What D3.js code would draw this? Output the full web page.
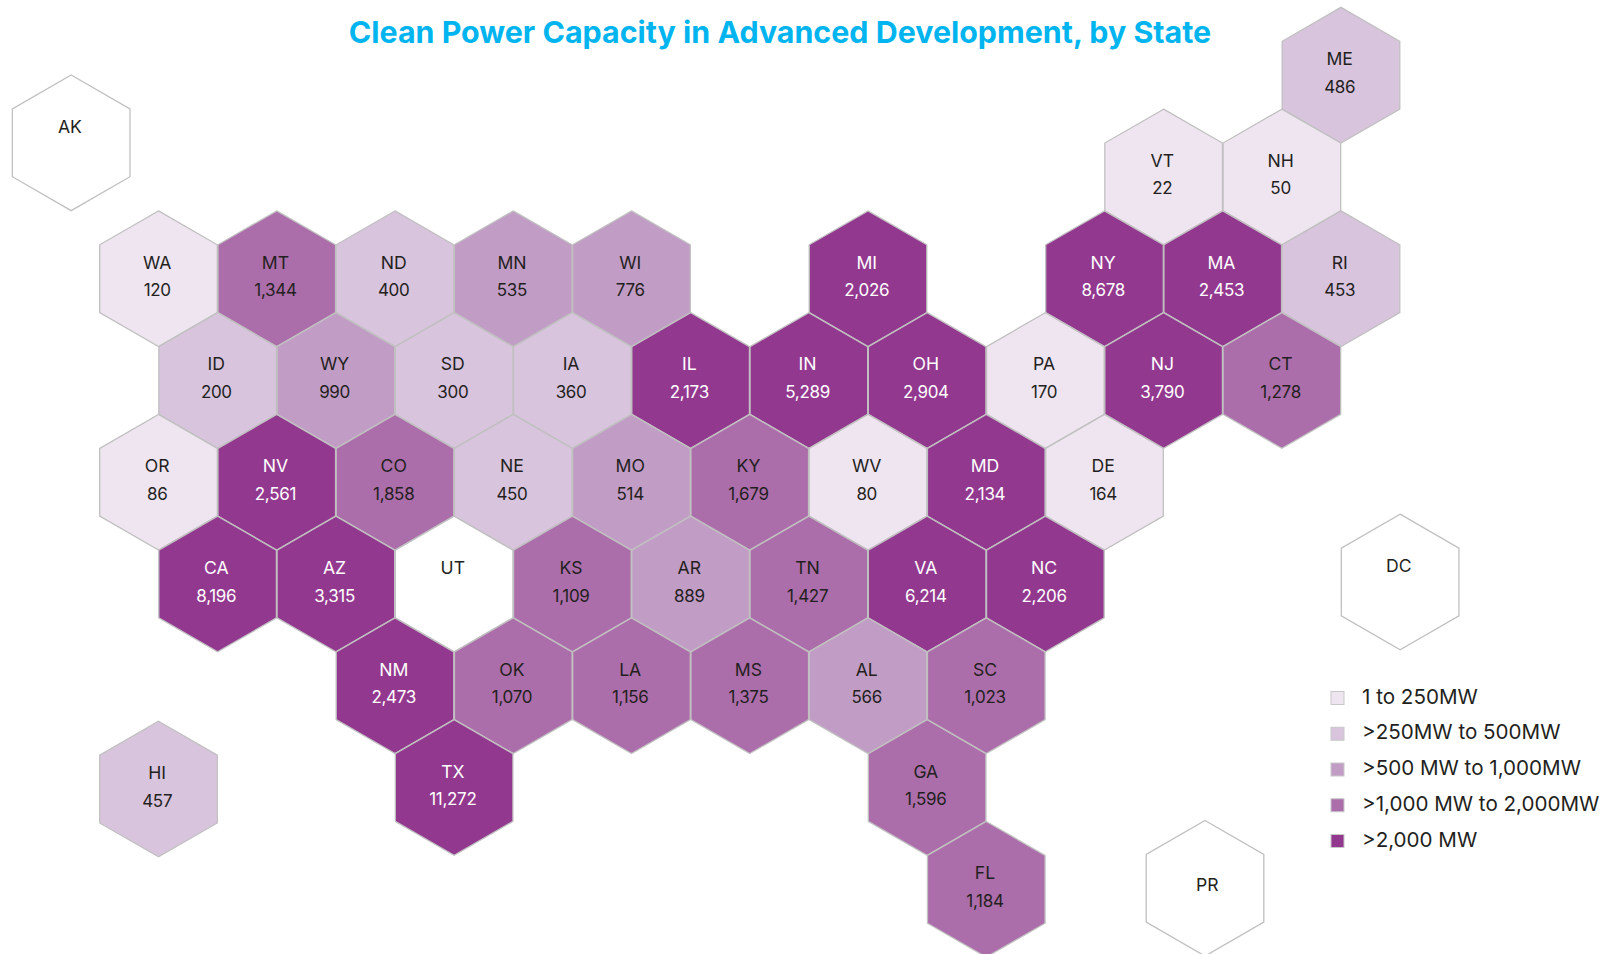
<!DOCTYPE html>
<html>
<head>
<meta charset="utf-8">
<title>Clean Power Capacity in Advanced Development, by State</title>
<script src="https://cdn.jsdelivr.net/npm/d3@7"></script>
<style>
  html, body { margin: 0; padding: 0; background: #fff; overflow: hidden; }
  svg { display: block; }
  text { font-family: Inter, "Noto Sans", sans-serif; }
</style>
</head>
<body>
<div id="chart"></div>
<script>
// ---------------------------------------------------------------- data
var states = ["AK","ME","VT","NH",
  "WA","MT","ND","MN","WI","MI","NY","MA","RI",
  "ID","WY","SD","IA","IL","IN","OH","PA","NJ","CT",
  "OR","NV","CO","NE","MO","KY","WV","MD","DE",
  "CA","AZ","UT","KS","AR","TN","VA","NC","DC",
  "NM","OK","LA","MS","AL","SC",
  "HI","TX","GA",
  "FL","PR"];
var values = [null,486,22,50,
  120,1344,400,535,776,2026,8678,2453,453,
  200,990,300,360,2173,5289,2904,170,3790,1278,
  86,2561,1858,450,514,1679,80,2134,164,
  8196,3315,null,1109,889,1427,6214,2206,null,
  2473,1070,1156,1375,566,1023,
  457,11272,1596,
  1184,null];
// grid position of each state : col counts half hexagons, row counts rows
var cols = [-1.477,20,17,19,
  0,2,4,6,8,12,16,18,20,
  1,3,5,7,9,11,13,15,17,19,
  0,2,4,6,8,10,12,14,16,
  1,3,5,7,9,11,13,15,21,
  4,6,8,10,12,14,
  0,5,13,
  14,17.7];
var rows = [-1.335,-2,-1,-1,
  0,0,0,0,0,0,0,0,0,
  1,1,1,1,1,1,1,1,1,1,
  2,2,2,2,2,2,2,2,2,
  3,3,3,3,3,3,3,3,2.98,
  4,4,4,4,4,4,
  5.015,5,5,
  6,5.99];
var thresholds = [250, 500, 1000, 2000];
var colors = ["#efe5f0", "#d9c4de", "#c19cc5", "#ac6eaa", "#93388f"];
var legendLabels = ["1 to 250MW", ">250MW to 500MW", ">500 MW to 1,000MW", ">1,000 MW to 2,000MW", ">2,000 MW"];
var title = "Clean Power Capacity in Advanced Development, by State";

// ---------------------------------------------------------------- layout
var width = 1608,
    height = 954,
    radius = 67.8,
    halfWidth = 58.8;

var svg = d3.select("#chart").append("svg")
  .attr("width", width)
  .attr("height", height);

var x = d3.scaleLinear().domain([0, 20]).range([158.5, 1341]);
var y = d3.scaleLinear().domain([0, 6]).range([278.7, 889.3]);
var color = d3.scaleThreshold().domain(thresholds).range(colors);

// the source paints ID one class above what its value gives
function fillOf(d, i) {
  if (d === "ID") return colors[1];
  return values[i] === null ? "#fff" : color(values[i]);
}

var hexPoints = d3.range(6).map(function(i) {
  var a = Math.PI / 3 * i;
  return [halfWidth * Math.sin(a) / (Math.sqrt(3) / 2), -radius * Math.cos(a)];
});
var hexPath = d3.line()(hexPoints) + "Z";

svg.append("text")
  .attr("x", 780)
  .attr("y", 43)
  .attr("text-anchor", "middle")
  .attr("font-size", 30.4)
  .attr("font-weight", 700)
  .attr("fill", "#00b5ef")
  .text(title);

// ---------------------------------------------------------------- hexagons
var g = svg.selectAll(".state")
  .data(states)
  .enter().append("g")
  .attr("class", "state")
  .attr("transform", function(d, i) { return "translate(" + x(cols[i]) + "," + y(rows[i]) + ")"; });

g.append("path")
  .attr("d", hexPath)
  .attr("fill", fillOf)
  .attr("stroke", "#c0c0c0")
  .attr("stroke-width", 1.3);

function textColor(v) {
  return v !== null && v > 2000 ? "#ffffff" : "#231f20";
}

// PR has its label in the middle of the hexagon, the others sit above the value
g.append("text")
  .attr("x", function(d) { return d === "PR" ? 2.3 : -1.3; })
  .attr("y", function(d) { return d === "PR" ? 2.7 : -10; })
  .attr("text-anchor", "middle")
  .attr("font-size", 17.6)
  .attr("fill", function(d, i) { return textColor(values[i]); })
  .text(function(d) { return d; });

g.append("text")
  .attr("x", -1.3)
  .attr("y", 17.5)
  .attr("text-anchor", "middle")
  .attr("font-size", 17)
  .attr("letter-spacing", -0.3)
  .attr("fill", function(d, i) { return textColor(values[i]); })
  .text(function(d, i) { return values[i] === null ? "" : d3.format(",")(values[i]); });

// ---------------------------------------------------------------- legend
var legendY = d3.scalePoint().domain(legendLabels).range([698, 841]);

var legend = svg.selectAll(".legend")
  .data(legendLabels)
  .enter().append("g")
  .attr("class", "legend")
  .attr("transform", function(d) { return "translate(1331," + legendY(d) + ")"; });

legend.append("rect")
  .attr("y", -6.5)
  .attr("width", 13)
  .attr("height", 13)
  .attr("fill", function(d, i) { return colors[i]; })
  .attr("stroke", "#c8c8c8")
  .attr("stroke-width", 1);

legend.append("text")
  .attr("x", 31)
  .attr("y", 5.5)
  .attr("font-size", 20.6)
  .attr("fill", "#231f20")
  .text(function(d) { return d; });
</script>
</body>
</html>
